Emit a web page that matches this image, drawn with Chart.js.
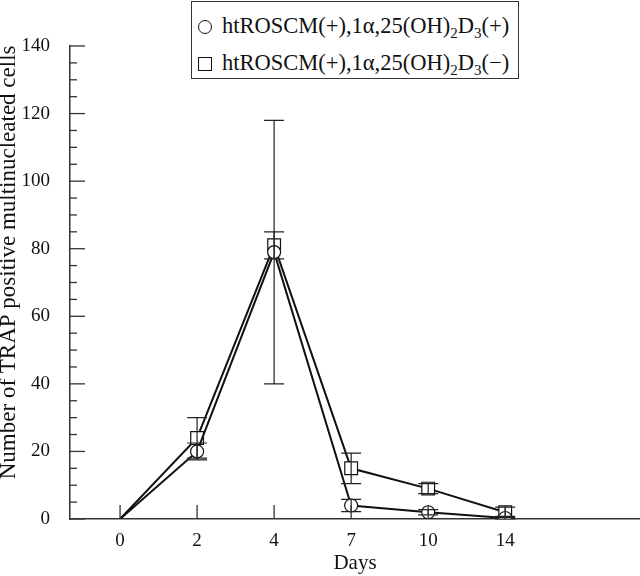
<!DOCTYPE html>
<html>
<head>
<meta charset="utf-8">
<script src="https://cdn.jsdelivr.net/npm/chart.js@4/dist/chart.umd.min.js"></script>
<style>
  body { margin: 0; background: #fff; }
  #wrap { position: relative; width: 640px; height: 576px; }
  #legend {
    position: absolute; left: 191px; top: 1px; width: 326px; height: 76px;
    border: 1.5px solid #333; background: #fff;
    font-family: "Liberation Serif", "Times New Roman", serif; font-size: 22.5px; color: #111;
  }
  .row { position: absolute; left: 6px; height: 24px; line-height: 24px; white-space: nowrap; }
  .mk { display: inline-block; width: 12px; height: 12px; border: 1.2px solid #111; margin-right: 10px; vertical-align: -1px; }
  .circ { border-radius: 50%; }
  sub { font-size: 15px; vertical-align: -5px; line-height: 0; }
</style>
</head>
<body>
<div id="wrap">
  <canvas id="myChart" width="640" height="576"></canvas>
  <div id="legend">
    <div class="row" style="top:12px"><span class="mk circ"></span>htROSCM(+),1α,25(OH)<sub>2</sub>D<sub>3</sub>(+)</div>
    <div class="row" style="top:49px"><span class="mk"></span>htROSCM(+),1α,25(OH)<sub>2</sub>D<sub>3</sub>(−)</div>
  </div>
</div>
<script>
var days = ['0', '2', '4', '7', '10', '14'];
var withD3 = [0, 20, 79, 4, 2, 0.3];
var withD3Err = [0, 2.5, 39, 1.8, 0.8, 0.5];
var withoutD3 = [0, 24, 81, 15, 9, 2];
var withoutD3Err = [0, 6, 4, 4.5, 1.5, 1.5];
var yTicks = [];
for (var v = 0; v <= 140; v += 5) yTicks.push(v);

function points(values) {
  return values.map(function(y, i) { return { x: i, y: y }; });
}

var serif = '"Liberation Serif", "Times New Roman", serif';

// error bars + inward tick marks
var extras = {
  id: 'extras',
  afterDatasetsDraw: function(chart) {
    var ctx = chart.ctx;
    var xs = chart.scales.x, ys = chart.scales.y;
    ctx.save();
    ctx.strokeStyle = '#222';
    ctx.lineWidth = 1.2;
    [[withD3, withD3Err], [withoutD3, withoutD3Err]].forEach(function(s) {
      s[0].forEach(function(val, i) {
        var e = s[1][i];
        if (!e) return;
        var px = xs.getPixelForValue(i);
        var top = ys.getPixelForValue(val + e);
        var bot = ys.getPixelForValue(Math.max(val - e, 0));
        ctx.beginPath();
        ctx.moveTo(px, top); ctx.lineTo(px, bot);
        ctx.moveTo(px - 10, top); ctx.lineTo(px + 10, top);
        ctx.moveTo(px - 10, bot); ctx.lineTo(px + 10, bot);
        ctx.stroke();
      });
    });
    ctx.strokeStyle = '#333';
    ctx.lineWidth = 1.3;
    var left = chart.chartArea.left, bottom = chart.chartArea.bottom;
    yTicks.forEach(function(t) {
      var py = ys.getPixelForValue(t);
      var len = t % 20 === 0 ? 15 : 7;
      ctx.beginPath(); ctx.moveTo(left, py); ctx.lineTo(left + len, py); ctx.stroke();
    });
    days.forEach(function(d, i) {
      var px = xs.getPixelForValue(i);
      ctx.beginPath(); ctx.moveTo(px, bottom); ctx.lineTo(px, bottom - 14); ctx.stroke();
    });
    ctx.restore();
  }
};

var config = {
  type: 'line',
  data: {
    datasets: [{
      label: 'htROSCM(+),1α,25(OH)2D3(+)',
      data: points(withD3),
      borderColor: '#111',
      borderWidth: 2,
      backgroundColor: '#fff',
      pointStyle: 'circle',
      pointRadius: [0, 6.5, 6.5, 6.5, 6.5, 6.5],
      pointBorderWidth: 1.2,
      pointBorderColor: '#111',
      tension: 0
    }, {
      label: 'htROSCM(+),1α,25(OH)2D3(−)',
      data: points(withoutD3),
      borderColor: '#111',
      borderWidth: 2,
      backgroundColor: '#fff',
      pointStyle: 'rect',
      pointRadius: [0, 9, 9, 9, 9, 9],
      pointBorderWidth: 1.2,
      pointBorderColor: '#111',
      tension: 0
    }]
  },
  options: {
    responsive: false,
    animation: false,
    layout: { autoPadding: false, padding: { top: 46, right: 0, left: 0, bottom: 0 } },
    plugins: { legend: { display: false }, tooltip: { enabled: false } },
    scales: {
      x: {
        type: 'linear',
        min: -0.65,
        max: 6.75,
        afterBuildTicks: function(scale) {
          scale.ticks = days.map(function(d, i) { return { value: i }; });
        },
        afterFit: function(scale) {
          scale.height = 57;
          scale.paddingRight = 0;
          scale.paddingLeft = 0;
        },
        grid: { display: false },
        border: { display: true, color: '#333', width: 1.5 },
        ticks: {
          color: '#111', padding: 3,
          font: { family: serif, size: 19 },
          callback: function(v) { return days[v]; }
        },
        title: { display: true, text: 'Days', color: '#111', padding: { top: 0, bottom: 0 }, font: { family: serif, size: 21 } }
      },
      y: {
        min: 0,
        max: 140,
        afterBuildTicks: function(scale) {
          scale.ticks = [0, 20, 40, 60, 80, 100, 120, 140].map(function(t) { return { value: t }; });
        },
        afterFit: function(scale) { scale.width = 70; },
        grid: { display: false },
        border: { display: true, color: '#333', width: 1.5 },
        ticks: { color: '#111', padding: 12, font: { family: serif, size: 19 } },
        title: {
          display: true,
          text: '       Number of TRAP positive multinucleated cells',
          color: '#111',
          padding: { top: 0, bottom: 0 },
          font: { family: serif, size: 23, lineHeight: 0.8 }
        }
      }
    }
  },
  plugins: [extras]
};

document.addEventListener('DOMContentLoaded', function() {
  new Chart(document.getElementById('myChart'), config);
});
</script>
</body>
</html>
